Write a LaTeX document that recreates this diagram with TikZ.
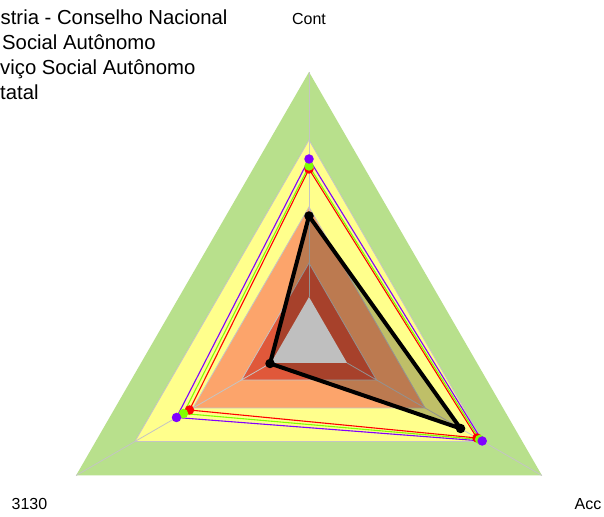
\documentclass[tikz,border=0pt]{standalone}
\usepackage{fontspec}
\setmainfont{Liberation Sans}
\usetikzlibrary{calc}
\definecolor{bandgreen}{HTML}{B8E08C}
\definecolor{bandyellow}{HTML}{FFFF8C}
\definecolor{bandsalmon}{HTML}{FCA46B}
\definecolor{bandred}{HTML}{E0583A}
\definecolor{gridgrey}{HTML}{C4C4C4}
\definecolor{serred}{HTML}{FF0000}
\definecolor{sergreen}{HTML}{80FF00}
\definecolor{serpurple}{HTML}{8000FF}
\tikzset{
  gridline/.style={draw=gridgrey, line width=0.8pt},
  serline/.style={line width=1.1pt, line join=round},
  serdot/.style={circle, inner sep=0pt, minimum size=9.5pt},
  legendtext/.style={anchor=base west, inner sep=0pt, font=\fontsize{20.3}{24}\selectfont},
  axislabel/.style={anchor=base, inner sep=0pt, font=\fontsize{16}{19}\selectfont}
}
\begin{document}
\begin{tikzpicture}[x=1pt, y=1pt]
\useasboundingbox (0,0) rectangle (604,516);
\fill[white] (0,0) rectangle (604,516);
\coordinate (C) at (309,175);
% background bands
\foreach \r/\c in {269/bandgreen, 201/bandyellow, 134/bandsalmon, 78/bandred, 44/white}{
  \fill[\c] ($(C)+(90:\r)$) -- ($(C)+(210:\r)$) -- ($(C)+(330:\r)$) -- cycle;
}
% grid outlines
\foreach \r in {201,134,78}{
  \draw[gridline] ($(C)+(90:\r)$) -- ($(C)+(210:\r)$) -- ($(C)+(330:\r)$) -- cycle;
}
\foreach \a in {90,210,330}{
  \draw[gridline] ($(C)+(\a:44)$) -- ($(C)+(\a:269)$);
}
% series polygons
\foreach \col/\t/\l/\rr in {serred/172/138/194, sergreen/175/145/197, serpurple/182/153/200}{
  \draw[serline, \col] ($(C)+(90:\t)$) -- ($(C)+(210:\l)$) -- ($(C)+(330:\rr)$) -- cycle;
}
% black series with translucent fill
\coordinate (bT) at ($(C)+(90:125)$);
\coordinate (bL) at ($(C)+(210:45)$);
\coordinate (bR) at ($(C)+(330:175)$);
\fill[black, opacity=0.25] (bT) -- (bL) -- (bR) -- cycle;
\draw[black, line width=4pt, line join=round] (bT) -- (bL) -- (bR) -- cycle;
% dots
\foreach \col/\t/\l/\rr in {serred/172/138/194, sergreen/175/145/197, serpurple/182/153/200}{
  \node[serdot, fill=\col] at ($(C)+(90:\t)$) {};
  \node[serdot, fill=\col] at ($(C)+(210:\l)$) {};
  \node[serdot, fill=\col] at ($(C)+(330:\rr)$) {};
}
\node[serdot, fill=black] (dT) at (bT) {};
\node[serdot, fill=black] (dL) at (bL) {};
\node[serdot, fill=black] (dR) at (bR) {};
% axis labels
\node[axislabel] (labCont) at (309,491) {Cont};
\node[axislabel] (lab3130) at (29.5,7) {3130};
\node[axislabel] (labAcc) at (588,7) {Acc};
% legend (clipped at the left edge)
\node[legendtext] (leg1) at (0.5,491) {stria - Conselho Nacional};
\node[legendtext] (leg2) at (2,466) {Social Autônomo};
\node[legendtext] (leg3) at (0,441) {viço Social Autônomo};
\node[legendtext] (leg4) at (0,416) {tatal};
\end{tikzpicture}
\end{document}
